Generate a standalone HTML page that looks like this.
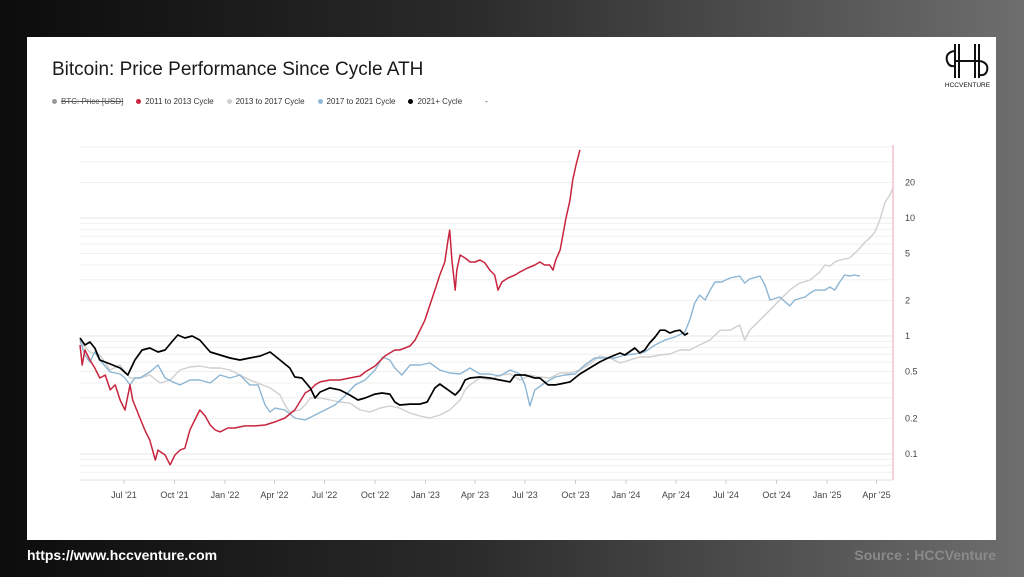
<!DOCTYPE html>
<html><head><meta charset="utf-8">
<style>
html,body{margin:0;padding:0;}
body{width:1024px;height:577px;overflow:hidden;position:relative;background:linear-gradient(90deg,#0c0c0c 0%,#2a2a2a 45%,#6e6e6e 100%);font-family:"Liberation Sans",sans-serif;}
#panel{position:absolute;left:27px;top:37px;width:969px;height:503px;background:#fff;}
#title{position:absolute;left:25px;top:22px;font-size:19px;color:#1a1a1a;}
#legend{position:absolute;left:25px;top:60px;font-size:8px;color:#333;display:flex;gap:0;}
.le{display:flex;align-items:center;margin-right:13px;}
.dot{width:5px;height:5px;border-radius:50%;margin-right:4px;display:inline-block;}
#logo{position:absolute;left:913px;top:4px;width:55px;height:50px;}
#footer-url{position:absolute;left:27px;top:547px;font-size:14px;font-weight:bold;color:#fff;}
#footer-src{position:absolute;right:28px;top:547px;font-size:14px;font-weight:bold;color:#8a8a8a;}
svg text{font-family:"Liberation Sans",sans-serif;}
</style></head>
<body>
<div id="panel">
  <div id="title">Bitcoin: Price Performance Since Cycle ATH</div>
  <div id="legend">
    <div class="le"><span class="dot" style="background:#999"></span><span style="text-decoration:line-through;color:#555">BTC: Price [USD]</span></div>
    <div class="le"><span class="dot" style="background:#c8243e"></span>2011 to 2013 Cycle</div>
    <div class="le"><span class="dot" style="background:#d0d0d0"></span>2013 to 2017 Cycle</div>
    <div class="le"><span class="dot" style="background:#8fb7d6"></span>2017 to 2021 Cycle</div>
    <div class="le"><span class="dot" style="background:#000"></span>2021+ Cycle</div>
    <div class="le" style="margin-left:10px">-</div>
  </div>
  <svg id="logo" viewBox="0 0 55 50">
    <rect x="14" y="3" width="2" height="34" fill="#111"/><rect x="18" y="3" width="2" height="34" fill="#111"/>
    <rect x="34" y="3" width="2" height="34" fill="#111"/><rect x="38" y="3" width="2" height="34" fill="#111"/>
    <rect x="14" y="19" width="26" height="2" fill="#111"/>
    <path d="M14 10 Q5 12 7 20 Q9 26 14 25" fill="none" stroke="#111" stroke-width="2"/>
    <path d="M40 20 Q49 22 47 30 Q45 35 40 34" fill="none" stroke="#111" stroke-width="2"/>
    <text x="27.5" y="46" font-size="6.5" text-anchor="middle" fill="#111" font-family="Liberation Serif,serif">HCCVENTURE</text>
  </svg>
</div>
<svg id="chart" width="1024" height="577" style="position:absolute;left:0;top:0"></svg>
<div id="footer-url">https://www.hccventure.com</div>
<div id="footer-src">Source : HCCVenture</div>
<script>
const tickLabels=["Jul '21","Oct '21","Jan '22","Apr '22","Jul '22","Oct '22","Jan '23","Apr '23","Jul '23","Oct '23","Jan '24","Apr '24","Jul '24","Oct '24","Jan '25","Apr '25"];
const tickDays=[80,172,264,354,445,537,629,719,810,902,994,1085,1176,1268,1360,1450];
const yTicks=[20,10,5,2,1,0.5,0.2,0.1];
const yTickLabels=["20","10","5","2","1","0.5","0.2","0.1"];

const blackDays=[0,9,18,27,36,55,73,87,100,113,127,142,155,167,178,191,204,218,237,255,273,291,309,328,346,364,382,391,404,419,428,437,455,473,491,506,519,537,550,564,573,582,601,619,632,646,655,668,683,692,701,710,728,746,764,783,792,810,828,837,852,865,874,892,901,910,928,946,965,983,992,1010,1019,1028,1037,1047,1056,1065,1074,1083,1092,1101,1107];
const blackVals=[0.962,0.839,0.890,0.791,0.626,0.579,0.536,0.467,0.626,0.761,0.791,0.732,0.761,0.890,1.02,0.962,1.0,0.925,0.732,0.690,0.651,0.626,0.651,0.677,0.732,0.626,0.536,0.449,0.441,0.363,0.298,0.335,0.363,0.349,0.316,0.287,0.298,0.322,0.329,0.322,0.276,0.260,0.265,0.265,0.276,0.363,0.392,0.355,0.316,0.349,0.424,0.441,0.449,0.441,0.424,0.408,0.467,0.467,0.441,0.441,0.385,0.385,0.392,0.408,0.441,0.476,0.536,0.602,0.664,0.718,0.690,0.791,0.718,0.761,0.872,0.981,1.12,1.12,1.06,1.10,1.12,1.02,1.06];

const redDays=[0,4,9,18,27,36,46,55,64,73,82,91,96,109,118,127,137,142,155,164,173,182,191,200,209,218,228,237,246,255,269,282,300,319,337,355,373,391,400,410,419,428,437,455,473,491,510,519,537,555,573,582,601,610,619,628,637,646,655,664,670,673,677,683,686,692,701,710,719,728,737,746,755,761,768,779,792,801,815,828,837,846,855,861,866,874,879,884,892,897,903,910];
const redVals=[0.839,0.568,0.761,0.626,0.536,0.441,0.467,0.349,0.385,0.287,0.236,0.385,0.287,0.202,0.160,0.131,0.089,0.108,0.098,0.081,0.098,0.108,0.112,0.160,0.194,0.236,0.210,0.176,0.160,0.154,0.166,0.166,0.173,0.173,0.176,0.187,0.202,0.236,0.276,0.329,0.349,0.385,0.408,0.424,0.424,0.441,0.458,0.495,0.557,0.677,0.761,0.761,0.823,0.925,1.12,1.37,1.83,2.45,3.29,4.24,6.50,7.90,4.41,2.45,3.62,4.86,4.58,4.24,4.24,4.41,4.16,3.62,3.29,2.45,2.87,3.10,3.29,3.49,3.77,4.00,4.24,4.00,4.00,3.62,4.41,5.35,7.18,9.62,14.2,21.0,28.1,37.8];

const blueDays=[0,9,18,27,36,55,73,82,91,100,109,127,142,155,173,182,200,218,237,255,273,291,309,324,337,346,355,373,391,410,428,446,464,482,501,519,537,551,564,573,586,601,619,637,655,673,692,710,728,746,764,783,801,810,819,828,846,865,883,901,919,937,955,974,992,1010,1028,1047,1065,1083,1101,1110,1119,1128,1138,1147,1156,1168,1183,1201,1210,1219,1238,1247,1256,1274,1292,1301,1320,1329,1338,1356,1365,1374,1383,1392,1401,1410,1420];
const blueVals=[0.925,0.690,0.602,0.732,0.626,0.495,0.476,0.441,0.385,0.441,0.441,0.495,0.568,0.441,0.400,0.385,0.424,0.424,0.400,0.467,0.441,0.467,0.385,0.385,0.260,0.227,0.245,0.236,0.202,0.194,0.214,0.236,0.260,0.310,0.385,0.424,0.515,0.664,0.626,0.536,0.467,0.568,0.568,0.590,0.515,0.486,0.476,0.536,0.476,0.476,0.458,0.515,0.476,0.385,0.255,0.349,0.400,0.449,0.467,0.476,0.568,0.651,0.651,0.651,0.690,0.704,0.732,0.839,0.925,0.981,1.08,1.37,1.90,2.22,2.02,2.45,2.87,2.87,3.10,3.22,2.81,3.04,3.22,2.70,2.02,2.14,1.80,2.02,2.14,2.31,2.45,2.45,2.60,2.45,2.87,3.29,3.22,3.29,3.22];

const greyDays=[0,18,36,55,73,91,109,127,146,164,182,200,218,237,255,273,291,309,328,346,364,373,382,400,410,419,437,455,473,491,510,528,546,564,582,601,619,637,655,673,692,701,710,728,746,764,783,801,819,837,855,874,892,910,928,946,965,983,1001,1019,1037,1056,1074,1092,1110,1128,1147,1165,1183,1201,1210,1219,1238,1256,1274,1292,1310,1329,1347,1356,1365,1374,1383,1401,1420,1429,1438,1447,1456,1465,1474,1480];
const greyVals=[0.890,0.732,0.690,0.515,0.568,0.441,0.441,0.467,0.400,0.424,0.515,0.546,0.557,0.536,0.536,0.515,0.467,0.424,0.392,0.363,0.316,0.260,0.227,0.236,0.260,0.298,0.298,0.287,0.276,0.270,0.236,0.227,0.245,0.255,0.245,0.222,0.210,0.202,0.214,0.236,0.287,0.349,0.385,0.441,0.424,0.467,0.476,0.424,0.467,0.449,0.441,0.486,0.486,0.515,0.579,0.677,0.651,0.590,0.626,0.664,0.664,0.690,0.704,0.761,0.761,0.839,0.925,1.12,1.12,1.24,0.925,1.12,1.37,1.66,2.02,2.45,2.81,2.98,3.49,4.00,3.92,4.24,4.41,4.58,5.56,6.26,6.76,7.62,9.62,13.4,15.6,17.9];

const NS='http://www.w3.org/2000/svg';
const svg=document.getElementById('chart');
const X0=80,X1=893,YT=145,YB=480,DMAX=1480,Y1PX=336,DEC=118;
function xs(d){return X0+d*(X1-X0)/DMAX;}
function ys(v){return Y1PX-Math.log10(v)*DEC;}
function mk(tag,attrs){const e=document.createElementNS(NS,tag);for(const k in attrs)e.setAttribute(k,attrs[k]);svg.appendChild(e);return e;}

const clip=mk('clipPath',{id:'plotclip'});
const cr=document.createElementNS(NS,'rect');cr.setAttribute('x',X0-2);cr.setAttribute('y',YT);cr.setAttribute('width',X1-X0+2);cr.setAttribute('height',YB-YT);clip.appendChild(cr);

// grid (log minor lines)
const gridG=mk('g',{});


for(let p=-2;p<=1;p++){for(let m=1;m<=9;m++){const v=m*Math.pow(10,p);const y=ys(v);if(y<YT||y>YB)continue;
 const l=document.createElementNS(NS,'line');l.setAttribute('x1',X0);l.setAttribute('x2',X1);l.setAttribute('y1',y);l.setAttribute('y2',y);l.setAttribute('stroke',m===1?'#e6e6e6':'#f0f0f0');l.setAttribute('stroke-width','1');
 
 
 gridG.appendChild(l);}}
// x axis baseline
const xb=mk('line',{x1:X0,x2:X1,y1:YB,y2:YB,stroke:'#e0e0e0'});


// right axis line
const ra=mk('line',{x1:X1,x2:X1,y1:YT,y2:YB,stroke:'#f2a6b0','stroke-width':1});



tickDays.forEach((d,i)=>{
 const x=xs(d);
 const t=mk('line',{x1:x,x2:x,y1:YB,y2:YB+4,stroke:'#ccc'});
 
 
 const tx=mk('text',{x:x,y:YB+18,'text-anchor':'middle','font-size':'9','fill':'#444'});
 tx.textContent=tickLabels[i];
 
 
});
yTicks.forEach((v,i)=>{
 const tx=mk('text',{x:905,y:ys(v)+3,'font-size':'9','fill':'#444'});
 tx.textContent=yTickLabels[i];
 
 
});

function series(days,vals,color,w,name){
 let d='';
 days.forEach((dd,i)=>{d+=(i?'L':'M')+xs(dd).toFixed(1)+' '+ys(vals[i]).toFixed(1);});
 const p=mk('path',{d:d,fill:'none',stroke:color,'stroke-width':w,'stroke-linejoin':'round','clip-path':'url(#plotclip)'});
 
 
}
series(greyDays,greyVals,'#cfcfcf',1.4,'line-2013-2017-cycle');
series(blueDays,blueVals,'#8db6d4',1.4,'line-2017-2021-cycle');
series(redDays,redVals,'#c8243e',1.5,'line-2011-2013-cycle');
series(blackDays,blackVals,'#000000',1.7,'line-2021-plus-cycle');
</script>
</body></html>
